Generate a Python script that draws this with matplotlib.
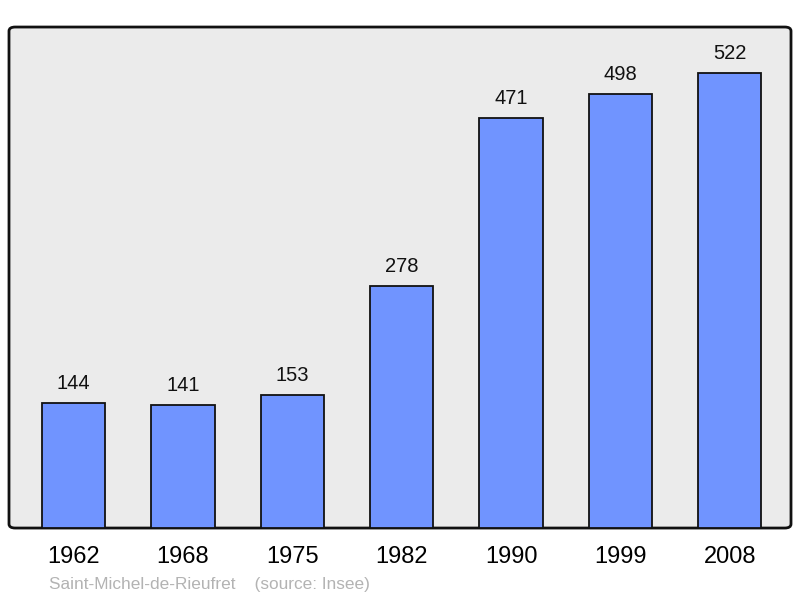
import matplotlib.pyplot as plt
from matplotlib.patches import FancyBboxPatch

plt.rcParams['font.family'] = ['Liberation Sans', 'DejaVu Sans']

years = ['1962', '1968', '1975', '1982', '1990', '1999', '2008']
population = [144, 141, 153, 278, 471, 498, 522]

fig = plt.figure(figsize=(8, 5.98), dpi=100)
ax = fig.add_axes([0.01125, 0.117, 0.9775, 0.8378])
ax.set_facecolor('none')

# rounded grey frame
frame = FancyBboxPatch((0, 0), 1, 1, boxstyle='round,pad=0,rounding_size=0.008',
                       transform=ax.transAxes, facecolor='#ebebeb', edgecolor='#111111',
                       linewidth=2, zorder=0, clip_on=False)
ax.add_patch(frame)

x = range(len(years))
bars = ax.bar(x, population, width=0.58, color='#7094ff', edgecolor='#111111',
              linewidth=1.3, zorder=2)

for xi, v in zip(x, population):
    ax.annotate(str(v), (xi, v), xytext=(0, 7), textcoords='offset points',
                ha='center', va='bottom', fontsize=14.5, color='#111111')

ax.set_xlim(-0.59, 6.56)
ax.set_ylim(0, 575)
ax.set_xticks(list(x))
ax.set_xticklabels(years, fontsize=17)
ax.tick_params(axis='x', length=0, pad=13)
ax.set_yticks([])
for s in ax.spines.values():
    s.set_visible(False)

fig.text(0.061, 0.015, 'Saint-Michel-de-Rieufret    (source: Insee)',
         fontsize=12.4, color='#b3b3b3', ha='left', va='baseline')

fig.savefig('out.png', dpi=100)
